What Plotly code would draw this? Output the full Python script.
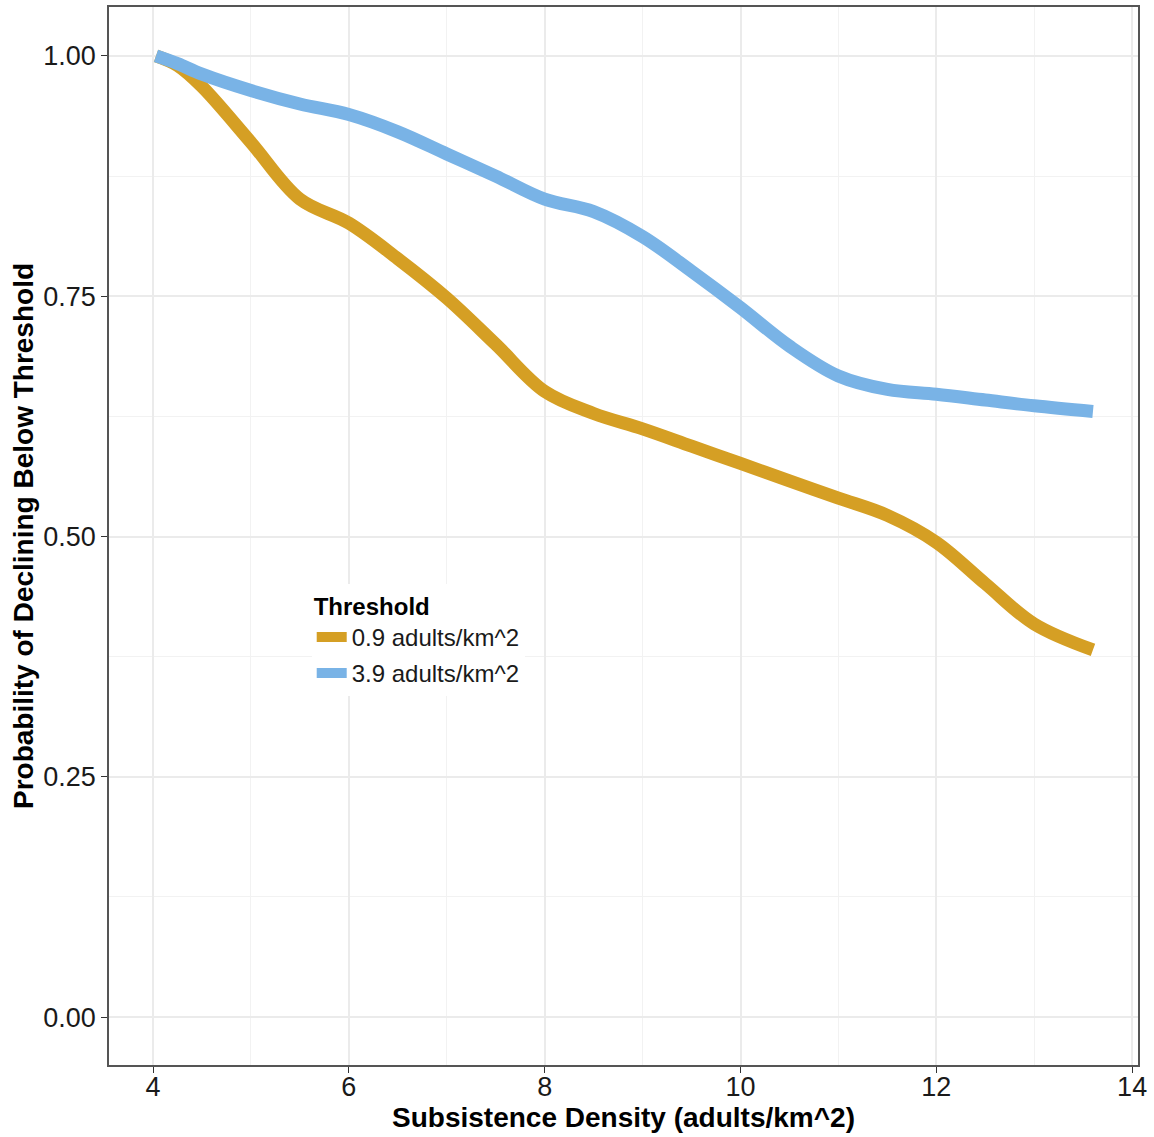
import plotly.graph_objects as go

density = [4.03, 4.25, 4.5, 5.0, 5.5, 6.0, 6.5, 7.0, 7.5, 8.0, 8.5, 9.0, 9.5, 10.0,
           10.5, 11.0, 11.5, 12.0, 12.5, 13.0, 13.6]
prob_09 = [1.0, 0.990, 0.968, 0.910, 0.851, 0.826, 0.789, 0.748, 0.700, 0.651, 0.628,
           0.612, 0.594, 0.576, 0.558, 0.540, 0.522, 0.494, 0.451, 0.409, 0.382]
prob_39 = [1.0, 0.992, 0.981, 0.964, 0.950, 0.939, 0.921, 0.898, 0.875, 0.851, 0.838,
           0.812, 0.776, 0.738, 0.698, 0.667, 0.653, 0.648, 0.642, 0.636, 0.630]
series_names = ["0.9 adults/km^2", "3.9 adults/km^2"]
series_colors = ["#D59F24", "#79B3E6"]
x_ticks = [4, 6, 8, 10, 12, 14]
y_ticks = [0.0, 0.25, 0.5, 0.75, 1.0]
y_ticklabels = ["0.00", "0.25", "0.50", "0.75", "1.00"]

fig = go.Figure()
for name, vals, col in zip(series_names, [prob_09, prob_39], series_colors):
    fig.add_trace(go.Scatter(
        x=density, y=vals, mode="lines", name=name, legendgroup=name,
        line=dict(color=col, width=13, shape="spline", smoothing=1.0),
    ))

font_family = "Liberation Sans, Arial, sans-serif"
fig.update_layout(
    width=1154, height=1137,
    margin=dict(l=109, r=16, t=5, b=72),
    paper_bgcolor="white", plot_bgcolor="white",
    font=dict(family=font_family, color="black", size=24),
    legend=dict(
        title=dict(text="<b>Threshold</b>", font=dict(size=24, color="black")),
        x=0.197, y=0.455, xanchor="left", yanchor="top",
        bgcolor="white", font=dict(size=24, color="#1a1a1a"),
        itemwidth=30, tracegroupgap=2,
    ),
    xaxis=dict(
        range=[3.55, 14.06], tickvals=x_ticks, ticktext=[str(v) for v in x_ticks],
        showgrid=True, gridcolor="#EBEBEB", gridwidth=1.5,
        minor=dict(dtick=1, tick0=0, showgrid=True, gridcolor="#F2F2F2", gridwidth=1),
        ticks="outside", ticklen=6, tickcolor="#333333", tickwidth=1.2,
        tickfont=dict(size=27, color="#1a1a1a"), ticklabelstandoff=-9,
        showline=True, linecolor="#555555", linewidth=1.5, mirror=True,
        zeroline=False,
        title=dict(text="<b>Subsistence Density (adults/km^2)</b>",
                   font=dict(size=28, color="black"), standoff=0),
    ),
    yaxis=dict(
        range=[-0.0498, 1.0509], tickvals=y_ticks, ticktext=y_ticklabels,
        showgrid=True, gridcolor="#EBEBEB", gridwidth=1.5,
        minor=dict(dtick=0.125, tick0=0, showgrid=True, gridcolor="#F2F2F2", gridwidth=1),
        ticks="outside", ticklen=6, tickcolor="#333333", tickwidth=1.2,
        tickfont=dict(size=27, color="#1a1a1a"),
        showline=True, linecolor="#555555", linewidth=1.5, mirror=True,
        zeroline=False,
        title=dict(text="<b>Probability of Declining Below Threshold</b>",
                   font=dict(size=28, color="black"), standoff=1),
    ),
)

fig.write_html("out.html", config={"displayModeBar": False},
               post_script="document.body.style.margin='0';")
